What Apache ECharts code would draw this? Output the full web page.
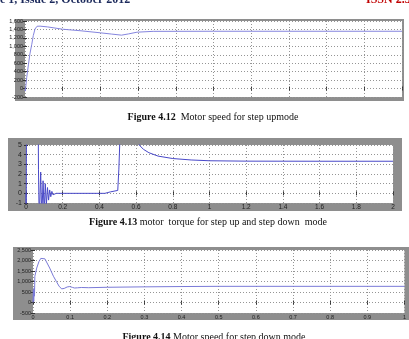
<!DOCTYPE html>
<html>
<head>
<meta charset="utf-8">
<script src="https://cdn.jsdelivr.net/npm/echarts@6/dist/echarts.min.js"></script>
<style>
  html, body { margin: 0; padding: 0; background: #fff; }
  #chart { width: 409px; height: 339px; }
</style>
</head>
<body>
<div id="chart"></div>
<script>
// Figure 4.12 - motor speed, step up mode
const speedUpT = [0, 0.001, 0.0045, 0.009, 0.013, 0.018, 0.022, 0.0265, 0.032, 0.04, 0.06, 0.1, 0.146, 0.2, 0.23, 0.256, 0.275, 0.297, 0.34, 0.5, 0.7, 1];
const speedUpV = [0, -60, 260, 560, 820, 1050, 1255, 1410, 1476, 1478, 1460, 1405, 1370, 1320, 1290, 1265, 1295, 1335, 1355, 1357, 1357, 1357];

// Figure 4.13 - motor torque, step up / step down
const torqueT = [0, 0.001, 0.003, 0.066, 0.068, 0.072, 0.080, 0.086, 0.093, 0.099, 0.105, 0.111, 0.117, 0.123, 0.129, 0.135, 0.141, 0.147, 0.155, 0.165,
  0.43, 0.432, 0.46, 0.462, 0.500, 0.506, 0.518, 0.61, 0.617, 0.64, 0.67, 0.72, 0.8, 0.9, 1.0, 1.2, 1.6, 2.0];
const torqueV = [0, -3, 9, 9, 2.5, -3, 2.2, -2.5, 1.3, -2, 1.0, -1.2, 0.6, -0.7, 0.35, -0.35, 0.2, -0.15, 0.05, 0,
  0, 0.15, 0.15, 0.25, 0.3, 2.5, 9, 9, 5, 4.55, 4.2, 3.85, 3.6, 3.45, 3.37, 3.33, 3.32, 3.32];

// Figure 4.14 - motor speed, step down mode
const speedDownT = [0, 0.001, 0.002, 0.003, 0.004, 0.005, 0.01, 0.016, 0.021, 0.026, 0.032, 0.045, 0.055, 0.063, 0.07, 0.077, 0.084, 0.092, 0.099, 0.106, 0.112, 0.12, 0.13, 0.15, 0.2, 0.3, 0.4, 0.5, 0.7, 1.0];
const speedDownV = [0, 600, 50, 700, 300, 1250, 1640, 1950, 2100, 2145, 2080, 1640, 1250, 1000, 780, 650, 670, 740, 760, 720, 690, 700, 715, 705, 725, 745, 760, 770, 770, 770];

// axis ranges [min, max, interval]
const xRanges = [[0, 1, 0.1], [0, 2, 0.2], [0, 1, 0.1]];
const yRanges = [[-200, 1600, 200], [-1, 5, 1], [-500, 2500, 500]];

const grids = [
  {left: 25, top: 21, width: 377, height: 76},
  {left: 26, top: 145, width: 367, height: 58},
  {left: 33, top: 250, width: 374, height: 63}
];
const labelSize = [5.5, 7, 5.5];

function zip(t, v) { return t.map((x, i) => [x, v[i]]); }

const gridLine = {show: true, lineStyle: {color: '#959595', width: 1, type: [1, 2]}};
const tick = {show: true, inside: true, length: 2, lineStyle: {color: '#333'}};

const xAxes = [], yAxes = [];
grids.forEach((g, i) => {
  xAxes.push({
    type: 'value', gridIndex: i, min: xRanges[i][0], max: xRanges[i][1], interval: xRanges[i][2],
    axisLine: {show: false}, axisTick: tick, splitLine: gridLine,
    axisLabel: {show: i > 0, fontSize: i == 1 ? 6.5 : 5.5, color: '#222', margin: 1, fontFamily: 'Liberation Sans'}
  });
  yAxes.push({
    type: 'value', gridIndex: i, min: yRanges[i][0], max: yRanges[i][1], interval: yRanges[i][2],
    axisLine: {show: false}, axisTick: tick, splitLine: gridLine,
    axisLabel: {fontSize: labelSize[i], color: '#222', margin: i == 1 ? 4 : 2, fontFamily: 'Liberation Sans'}
  });
});
// top / right tick marks like matlab
grids.forEach((g, i) => {
  xAxes.push({
    type: 'value', gridIndex: i, position: 'top', min: xRanges[i][0], max: xRanges[i][1], interval: xRanges[i][2],
    axisLine: {show: false}, axisTick: tick, splitLine: {show: false}, axisLabel: {show: false}
  });
  yAxes.push({
    type: 'value', gridIndex: i, position: 'right', min: yRanges[i][0], max: yRanges[i][1], interval: yRanges[i][2],
    axisLine: {show: false}, axisTick: tick, splitLine: {show: false}, axisLabel: {show: false}
  });
});

function line(i, data, color) {
  return {
    type: 'line', xAxisIndex: i, yAxisIndex: i, data: data, showSymbol: false, clip: true,
    lineStyle: {color: color, width: 1}, animation: false, z: 5
  };
}

const frame = (x, y, w, h) => ({type: 'rect', z: -10, shape: {x, y, width: w, height: h}, style: {fill: '#8e8e8e'}});
const serif = 'Liberation Serif';
const caption = (x, y, bold, rest) => ({
  type: 'text', x, y, z: 10,
  style: {
    text: '{b|' + bold + '}' + rest, fontFamily: serif, fontSize: 10, fill: '#111',
    align: 'center', verticalAlign: 'middle',
    rich: {b: {fontWeight: 'bold', fontFamily: serif, fontSize: 10, fill: '#111'}}
  }
});

const chart = echarts.init(document.getElementById('chart'));
chart.setOption({
  animation: false,
  grid: grids.map(g => Object.assign({show: true, backgroundColor: '#fff', borderWidth: 0}, g)),
  xAxis: xAxes,
  yAxis: yAxes,
  series: [
    line(0, zip(speedUpT, speedUpV), '#8585de'),
    line(1, zip(torqueT, torqueV), '#4848c8'),
    line(2, zip(speedDownT, speedDownV), '#7a7ad8')
  ],
  graphic: [
    frame(15, 19, 389, 82),
    frame(8, 138, 394, 73),
    frame(13, 247, 402, 73),
    {type: 'text', x: 0, y: 6, z: 10, style: {text: 'e 1, Issue 2, October 2012', fontFamily: serif, fontWeight: 'bold', fontSize: 12, fill: '#1c2a5c', verticalAlign: 'bottom'}},
    {type: 'text', x: 366, y: 6, z: 10, style: {text: 'ISSN 2.3', fontFamily: serif, fontWeight: 'bold', fontSize: 12, fill: '#c00000', verticalAlign: 'bottom'}},
    caption(213, 117, 'Figure 4.12', '  Motor speed for step upmode'),
    caption(208, 222, 'Figure 4.13', ' motor  torque for step up and step down  mode'),
    caption(214, 337, 'Figure 4.14', ' Motor speed for step down mode')
  ]
});
</script>
</body>
</html>
